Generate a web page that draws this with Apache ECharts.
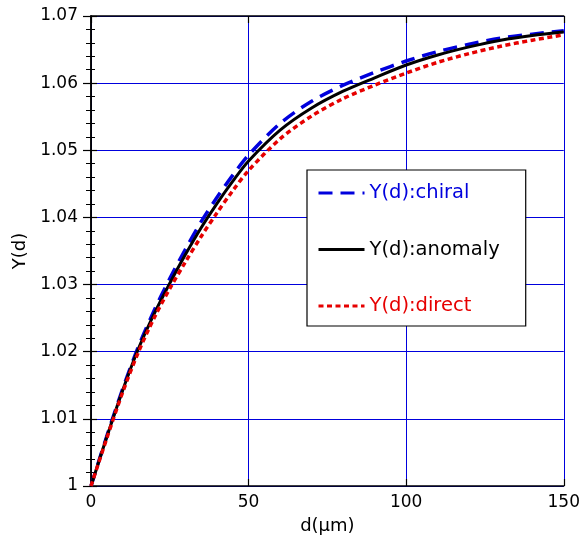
<!DOCTYPE html>
<html>
<head>
<meta charset="utf-8">
<script src="https://cdn.jsdelivr.net/npm/echarts@6/dist/echarts.min.js"></script>
<style>
  html, body { margin: 0; padding: 0; background: #fff; }
  #chart { width: 583px; height: 540px; }
</style>
</head>
<body>
<div id="chart"></div>
<script>
// d (um)
var dValues = [0, 5, 10, 15, 20, 25, 30, 35, 40, 45, 50, 60, 70, 80, 90, 100, 110, 120, 130, 140, 150];
// Y(d) curves
var yChiral = [1.0000, 1.0074, 1.0144, 1.0207, 1.0261, 1.0309, 1.0353, 1.0394, 1.0430, 1.0463, 1.0493,
  1.0540, 1.0573, 1.0597, 1.0616, 1.0633, 1.0647, 1.0658, 1.0667, 1.0673, 1.0678];
var yAnomaly = [1.0000, 1.0073, 1.0142, 1.0204, 1.0256, 1.0302, 1.0345, 1.0385, 1.0421, 1.0454, 1.0484,
  1.0530, 1.0563, 1.0588, 1.0608, 1.0627, 1.0642, 1.0654, 1.0664, 1.0671, 1.0676];
var yDirect = [1.0000, 1.0071, 1.0139, 1.0199, 1.0250, 1.0294, 1.0334, 1.0372, 1.0407, 1.0440, 1.0470,
  1.0517, 1.0551, 1.0577, 1.0597, 1.0615, 1.0631, 1.0644, 1.0655, 1.0664, 1.0672];

var seriesNames = ['Y(d):chiral', 'Y(d):anomaly', 'Y(d):direct'];
var seriesColors = ['#0000dd', '#000000', '#e60000'];

function pairs(ys) {
  var out = [];
  for (var i = 0; i < dValues.length; i++) out.push([dValues[i], ys[i]]);
  return out;
}

var font = 'DejaVu Sans, Liberation Sans, Arial, sans-serif';
var gridBlue = '#0000dd';

var chart = echarts.init(document.getElementById('chart'), null, { renderer: 'canvas' });
var option = {
  animation: false,
  backgroundColor: '#fff',
  grid: { left: 91, right: 14, top: 16, bottom: 52, containLabel: false },
  legend: {
    orient: 'vertical',
    left: 307,
    top: 170,
    padding: [13, 26, 10, 10],
    itemGap: 36.5,
    itemWidth: 46,
    itemHeight: 20,
    backgroundColor: '#fff',
    borderColor: '#000',
    borderWidth: 1.2,
    borderRadius: 0,
    itemStyle: { opacity: 0 },
    lineStyle: { width: 3 },
    textStyle: { fontFamily: font, fontSize: 19.5 },
    data: [
      { name: seriesNames[0], textStyle: { color: seriesColors[0] } },
      { name: seriesNames[1], textStyle: { color: seriesColors[1] } },
      { name: seriesNames[2], textStyle: { color: seriesColors[2] } }
    ]
  },
  xAxis: [{
    type: 'value', min: 0, max: 150, interval: 50,
    name: 'd(\u03bcm)', nameLocation: 'middle', nameGap: 31,
    nameTextStyle: { fontFamily: font, fontSize: 18, color: '#000' },
    axisLine: { show: true, lineStyle: { color: '#000', width: 1.5 } },
    axisTick: { show: true, inside: true, length: 7, lineStyle: { color: '#000', width: 1.2 } },
    axisLabel: { fontFamily: font, fontSize: 17, color: '#000', margin: 8 },
    splitLine: { show: true, lineStyle: { color: gridBlue, width: 1 } }
  }, {
    type: 'value', min: 0, max: 150, interval: 50, position: 'top',
    axisLine: { show: true, lineStyle: { color: '#000', width: 1.5 } },
    axisTick: { show: true, inside: true, length: 7, lineStyle: { color: '#000', width: 1.2 } },
    axisLabel: { show: false },
    splitLine: { show: false }
  }],
  yAxis: [{
    type: 'value', min: 1, max: 1.07, interval: 0.01,
    name: 'Y(d)', nameLocation: 'middle', nameGap: 60,
    nameTextStyle: { fontFamily: font, fontSize: 18, color: '#000' },
    axisLine: { show: true, lineStyle: { color: '#000', width: 1.5 } },
    axisTick: { show: true, length: 8, lineStyle: { color: '#000', width: 1.2 } },
    minorTick: { show: true, splitNumber: 5, length: 5, lineStyle: { color: '#000', width: 1 } },
    axisLabel: {
      fontFamily: font, fontSize: 17, color: '#000', margin: 13,
      formatter: function (v) { return (Math.round(v * 100) / 100).toString(); }
    },
    splitLine: { show: true, lineStyle: { color: gridBlue, width: 1 } }
  }, {
    type: 'value', min: 1, max: 1.07, interval: 0.01, position: 'right',
    axisLine: { show: true, lineStyle: { color: '#000', width: 1.5 } },
    axisTick: { show: true, length: 6, lineStyle: { color: '#000', width: 1.2 } },
    minorTick: { show: true, splitNumber: 5, length: 4, lineStyle: { color: '#000', width: 1 } },
    axisLabel: { show: false },
    splitLine: { show: false }
  }],
  series: [{
    name: seriesNames[0], type: 'line', smooth: 0.3, symbol: 'none',
    color: seriesColors[0],
    lineStyle: { color: seriesColors[0], width: 3.5, type: [14, 8] },
    data: pairs(yChiral), z: 2
  }, {
    name: seriesNames[1], type: 'line', smooth: 0.3, symbol: 'none',
    color: seriesColors[1],
    lineStyle: { color: seriesColors[1], width: 3 },
    data: pairs(yAnomaly), z: 3
  }, {
    name: seriesNames[2], type: 'line', smooth: 0.3, symbol: 'none',
    color: seriesColors[2],
    lineStyle: { color: seriesColors[2], width: 3.5, type: [5, 3.5] },
    data: pairs(yDirect), z: 4
  }]
};
chart.setOption(option);
</script>
</body>
</html>
